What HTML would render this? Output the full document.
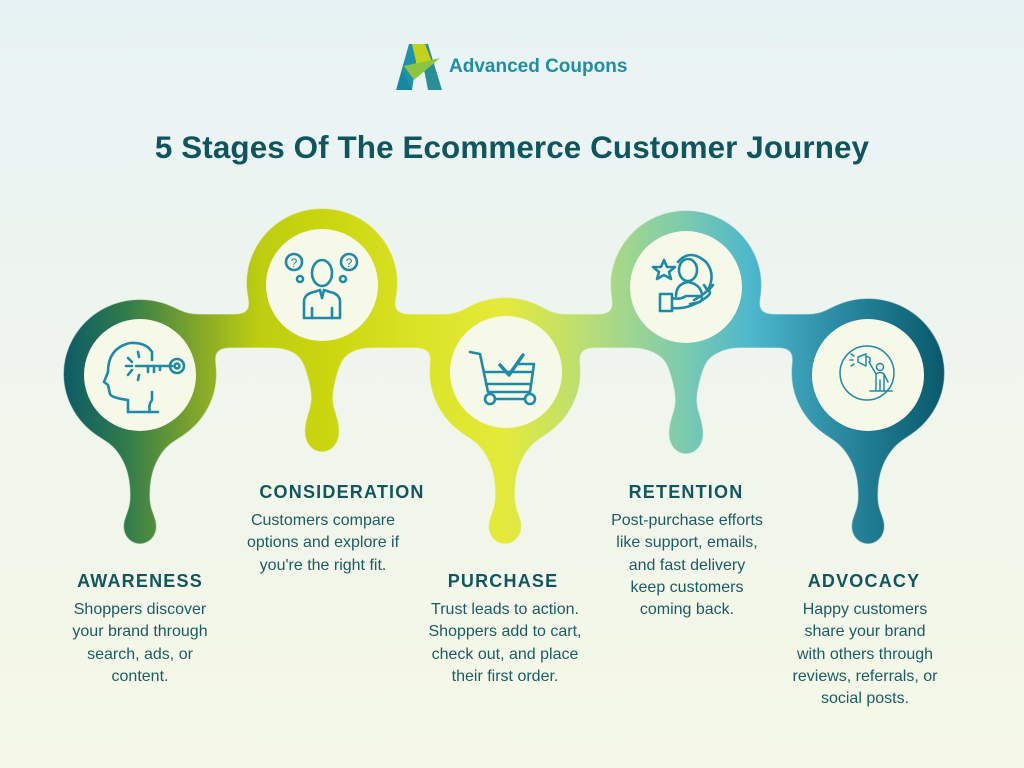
<!DOCTYPE html>
<html><head><meta charset="utf-8">
<style>
html,body{margin:0;padding:0}
body{width:1024px;height:768px;position:relative;overflow:hidden;background:linear-gradient(180deg,#e8f3f5 0%,#eff5ee 45%,#f5f8e6 100%);font-family:"Liberation Sans",sans-serif;color:#14585f}
.t{position:absolute;text-align:center;font-weight:bold;font-size:18px;letter-spacing:1.2px;color:#11565f;white-space:nowrap;transform:translateX(-50%)}
.b{position:absolute;text-align:center;font-size:16px;line-height:22.3px;color:#1a5c63;white-space:nowrap;transform:translateX(-50%)}
h1{position:absolute;left:0;width:1024px;top:130px;margin:0;text-align:center;font-size:31.4px;font-weight:bold;color:#0f5560;letter-spacing:0.1px}
.logo{position:absolute;left:449px;top:56px;font-size:19px;font-weight:bold;color:#1e8fa2}
</style></head><body>
<svg width="1024" height="768" style="position:absolute;left:0;top:0">
<defs>
<linearGradient id="g" gradientUnits="userSpaceOnUse" x1="62" y1="0" x2="946" y2="0">
<stop offset="0" stop-color="#0b5a68"/>
<stop offset="0.07" stop-color="#2f7a4c"/>
<stop offset="0.15" stop-color="#7fa52a"/>
<stop offset="0.22" stop-color="#bccd10"/>
<stop offset="0.3" stop-color="#cbd60e"/>
<stop offset="0.42" stop-color="#dde52a"/>
<stop offset="0.5" stop-color="#e4ea3a"/>
<stop offset="0.6" stop-color="#b6dc7a"/>
<stop offset="0.7" stop-color="#7ecbae"/>
<stop offset="0.78" stop-color="#4db7cc"/>
<stop offset="0.88" stop-color="#2a8aa2"/>
<stop offset="1" stop-color="#08586a"/>
</linearGradient>
<filter id="goo" x="-10%" y="-10%" width="120%" height="130%">
<feGaussianBlur in="SourceGraphic" stdDeviation="8"/>
<feColorMatrix values="1 0 0 0 0  0 1 0 0 0  0 0 1 0 0  0 0 0 18 -7"/>
</filter>
<mask id="m" maskUnits="userSpaceOnUse" x="0" y="0" width="1024" height="768">
<g filter="url(#goo)" fill="#fff">
<rect x="140" y="316" width="728" height="30"/>
<ellipse cx="140" cy="374" rx="75" ry="73"/>
<ellipse cx="322" cy="283" rx="74" ry="73"/>
<ellipse cx="505" cy="372" rx="74" ry="73"/>
<ellipse cx="686" cy="285" rx="74" ry="73"/>
<ellipse cx="868" cy="373" rx="75" ry="73"/>
<path d="M108 438 Q132 460 132 490 L132 510 Q124 518 124 528 A16 16 0 0 0 156 528 Q156 518 148 510 L148 490 Q148 460 172 438Z"/>
<path d="M473 436 Q497 458 497 488 L497 510 Q489 518 489 528 A16 16 0 0 0 521 528 Q521 518 513 510 L513 488 Q513 458 537 436Z"/>
<path d="M836 438 Q860 460 860 490 L860 510 Q852 518 852 528 A16 16 0 0 0 884 528 Q884 518 876 510 L876 490 Q876 460 900 438Z"/>
<path d="M298 345 Q314 380 314 405 Q306 418 306 436 A16 16 0 0 0 338 436 Q338 418 330 405 Q330 380 346 345Z"/>
<path d="M662 347 Q678 382 678 407 Q670 420 670 438 A16 16 0 0 0 702 438 Q702 420 694 407 Q694 382 710 347Z"/>
</g>
</mask>
</defs>
<rect x="0" y="150" width="1024" height="420" fill="url(#g)" mask="url(#m)"/>
<g fill="#f6f9e8">
<circle cx="140" cy="375" r="56"/>
<circle cx="322" cy="285" r="56"/>
<circle cx="506" cy="372" r="56"/>
<circle cx="686" cy="287" r="56"/>
<circle cx="868" cy="375" r="56"/>
</g>
<g fill="none" stroke="#1e8aa8" stroke-width="2.6" stroke-linecap="round" stroke-linejoin="round">
<path d="M128 412 L128 400 Q112 398 110 394 L108 385 L104 382 L108 372 Q108 348 130 343 Q146 342 152 352"/>
<path d="M152 352 L152 360 M152 392 L152 400 Q148 405 150 412"/>
<path d="M128 412 L158 412"/>
<path d="M136 366 L172 366"/><circle cx="177" cy="366" r="7"/><circle cx="177" cy="366" r="2.5"/>
<path d="M148 366 L148 372 M154 366 L154 372 M160 366 L160 370"/>
<path d="M128 358 L132 362 M126 366 L132 366 M128 375 L132 370 M138 352 L139 357 M138 380 L139 375"/>
<path d="M304 318 L304 302 Q304 294 314 292 L320 290 L322 298 L324 290 L330 292 Q340 294 340 302 L340 318 Z"/>
<ellipse cx="322" cy="273" rx="10" ry="13"/>
<path d="M312 308 L312 318 M332 308 L332 318"/>
<circle cx="294" cy="262" r="8"/><circle cx="349" cy="262" r="8"/>
<circle cx="300" cy="279" r="3"/><circle cx="343" cy="279" r="3"/>
<text x="294" y="267" font-size="12" fill="#1e8aa8" stroke="none" text-anchor="middle" font-family="Liberation Sans">?</text>
<text x="349" y="267" font-size="12" fill="#1e8aa8" stroke="none" text-anchor="middle" font-family="Liberation Sans">?</text>
<path d="M470 352 L480 354 L488 392 L530 392 L534 364 L518 364"/>
<path d="M484 372 L532 372 M486 384 L530 384"/>
<circle cx="490" cy="399" r="5"/><circle cx="530" cy="399" r="5"/><path d="M495 399 L525 399"/>
<path d="M500 365 L509 375 L523 355" stroke-width="3.5"/>
<path d="M660 311 L660 294 L672 294 L672 311 Z M672 298 Q680 300 686 296 L700 296 Q704 298 700 302 L690 304 M672 308 Q690 310 708 296 Q712 292 708 290 Q702 296 694 300"/>
<ellipse cx="688" cy="270" rx="9" ry="11"/>
<path d="M676 296 Q676 284 688 282 Q700 284 702 294"/>
<path d="M678 262 Q690 248 706 262 Q716 274 708 290 M704 285 L708 291 L713 285"/>
<path d="M664 260 L667 267 L675 267 L669 272 L671 279 L664 275 L657 279 L659 272 L653 267 L661 267 Z"/>
<circle cx="867" cy="373" r="27" stroke-width="1.5"/>
<g stroke-width="1.5">
<path d="M858 357 L866 354 L866 366 L858 362 Z M866 356 L870 358 L870 362"/>
<circle cx="880" cy="367" r="3.5"/>
<path d="M869 362 L876 374 L876 390 M884 374 L884 390 M876 374 Q880 371 884 374 L888 382 M880 380 L880 390 M870 391 L892 391"/>
<path d="M854 356 L851 354 M853 360 L850 360 M854 364 L851 366"/>
</g>
</g>
<g>
<polygon points="409,44 419,44 412,90 396,90" fill="#1d92a8"/>
<polygon points="419,44 428,44 442,90 428,90" fill="#2b8f9a"/>
<polygon points="412,44 425,44 432,62 418,70" fill="#c3d21a"/>
<polygon points="404,66 440,58 414,80" fill="#8cc63f"/>
<polygon points="402,70 412,90 397,90" fill="#1787a0"/>
</g>
</svg>
<div class="logo">Advanced Coupons</div>
<h1>5 Stages Of The Ecommerce Customer Journey</h1>

<div class="t" style="left:140px;top:571px">AWARENESS</div>
<div class="b" style="left:140px;top:599px">Shoppers discover<br>your brand through<br>search, ads, or<br>content.</div>

<div class="t" style="left:342px;top:482px">CONSIDERATION</div>
<div class="b" style="left:323px;top:510px">Customers compare<br>options and explore if<br>you're the right fit.</div>

<div class="t" style="left:503px;top:571px">PURCHASE</div>
<div class="b" style="left:505px;top:599px">Trust leads to action.<br>Shoppers add to cart,<br>check out, and place<br>their first order.</div>

<div class="t" style="left:686px;top:482px">RETENTION</div>
<div class="b" style="left:687px;top:510px">Post-purchase efforts<br>like support, emails,<br>and fast delivery<br>keep customers<br>coming back.</div>

<div class="t" style="left:864px;top:571px">ADVOCACY</div>
<div class="b" style="left:865px;top:599px">Happy customers<br>share your brand<br>with others through<br>reviews, referrals, or<br>social posts.</div>
</body></html>
